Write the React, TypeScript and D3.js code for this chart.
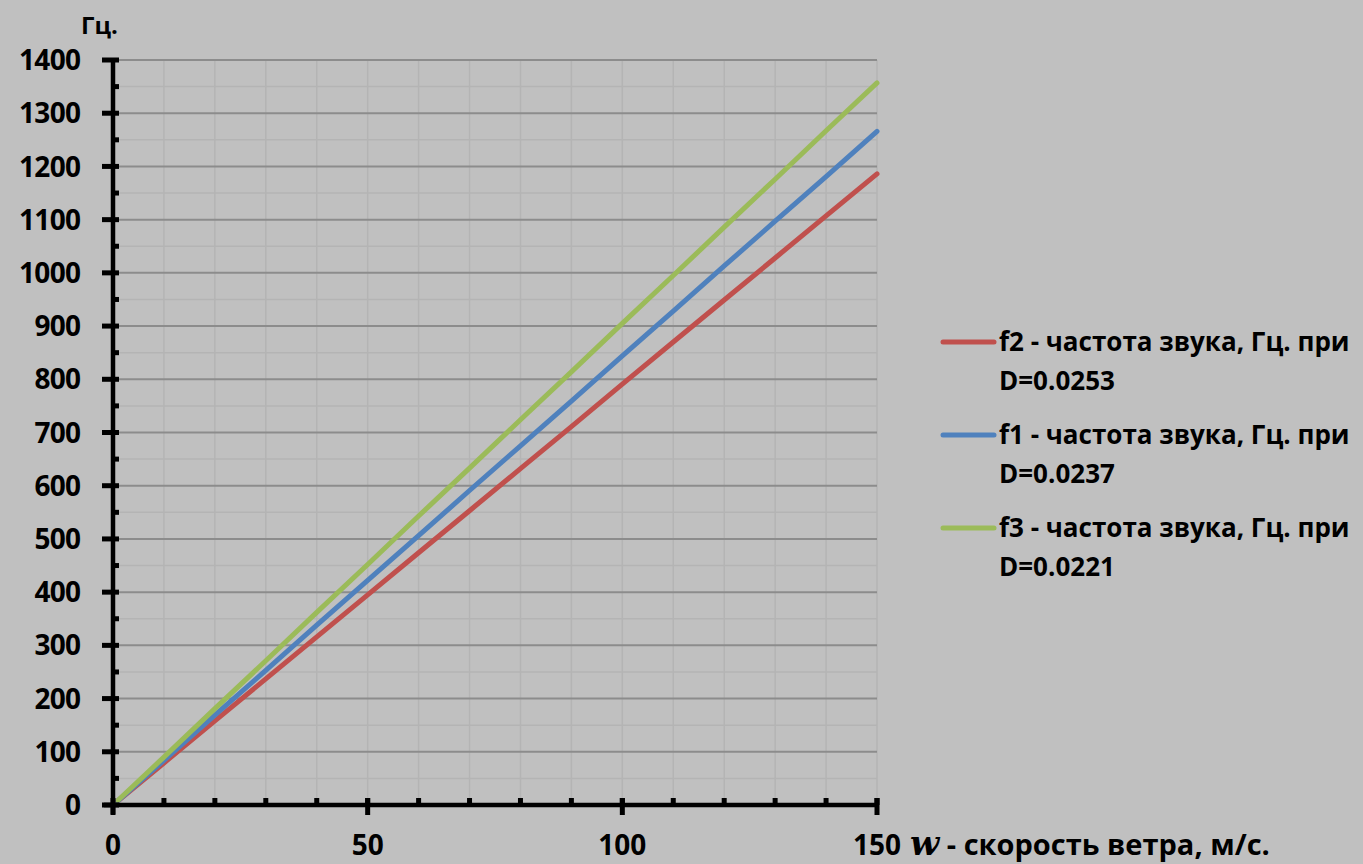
import React, { useRef, useEffect } from 'react';
import * as d3 from 'd3';

// wind speed, m/s
const speeds = [1, 10, 20, 30, 40, 50, 60, 70, 80, 90, 100, 110, 120, 130, 140, 150];

// f2, D=0.0253
const f2Values = [8, 79, 158, 237, 316, 395, 474, 553, 632, 711, 791, 870, 949, 1028, 1107, 1186];
// f1, D=0.0237
const f1Values = [8, 84, 169, 253, 338, 422, 506, 591, 675, 759, 844, 928, 1013, 1097, 1181, 1266];
// f3, D=0.0221
const f3Values = [9, 90, 181, 271, 362, 452, 543, 633, 724, 814, 905, 995, 1086, 1176, 1267, 1357];

const seriesNames = ['f2', 'f1', 'f3'];
const seriesDs = ['0.0253', '0.0237', '0.0221'];
const seriesColors = ['#c0504d', '#4f81bd', '#9bbb59'];

const yTicks = [0, 100, 200, 300, 400, 500, 600, 700, 800, 900, 1000, 1100, 1200, 1300, 1400];
const xTicks = [0, 50, 100, 150];

const W = 1363;
const H = 864;
const FONT = '"Open Sans", sans-serif';

export default function App() {
  const svgRef = useRef<SVGSVGElement>(null);

  useEffect(() => {
    const svg = d3.select(svgRef.current);
    svg.selectAll('*').remove();

    svg.append('rect').attr('width', W).attr('height', H).attr('fill', '#c0c0c0');

    const x = d3.scaleLinear().domain([0, 150]).range([113, 877]);
    const y = d3.scaleLinear().domain([0, 1400]).range([805, 60]);

    // vertical grid every 10
    const g = svg.append('g');
    g.selectAll('.vgrid')
      .data(d3.range(10, 151, 10))
      .enter().append('line')
      .attr('x1', d => x(d)).attr('x2', d => x(d))
      .attr('y1', y(1400)).attr('y2', y(0))
      .attr('stroke', '#b4b4b4').attr('stroke-width', 1.5);

    // minor horizontal grid every 50
    g.selectAll('.hminor')
      .data(d3.range(50, 1400, 100))
      .enter().append('line')
      .attr('x1', x(0)).attr('x2', x(150))
      .attr('y1', d => y(d)).attr('y2', d => y(d))
      .attr('stroke', '#b4b4b4').attr('stroke-width', 1.5);

    // major horizontal grid every 100
    g.selectAll('.hmajor')
      .data(yTicks.slice(1))
      .enter().append('line')
      .attr('x1', x(0)).attr('x2', x(150))
      .attr('y1', d => y(d)).attr('y2', d => y(d))
      .attr('stroke', '#8c8c8c').attr('stroke-width', 2);

    // series
    const allValues = [f2Values, f1Values, f3Values];
    const line = d3.line<number>()
      .x((_, i) => x(speeds[i]))
      .y(d => y(d));

    allValues.forEach((vals, i) => {
      svg.append('path')
        .datum(vals)
        .attr('fill', 'none')
        .attr('stroke', seriesColors[i])
        .attr('stroke-width', 5)
        .attr('stroke-linecap', 'round')
        .attr('stroke-linejoin', 'round')
        .attr('d', line);
    });

    // axes
    const ax = svg.append('g');
    ax.append('line')
      .attr('x1', x(0)).attr('x2', x(0))
      .attr('y1', y(1400) - 2).attr('y2', y(0) + 9)
      .attr('stroke', '#000').attr('stroke-width', 4.5);
    ax.append('line')
      .attr('x1', x(0) - 9).attr('x2', x(150) + 2)
      .attr('y1', y(0)).attr('y2', y(0))
      .attr('stroke', '#000').attr('stroke-width', 4.5);

    // y ticks
    ax.selectAll('.ymaj')
      .data(yTicks)
      .enter().append('line')
      .attr('x1', x(0) - 11).attr('x2', x(0) + 6)
      .attr('y1', d => y(d)).attr('y2', d => y(d))
      .attr('stroke', '#000').attr('stroke-width', 5);
    ax.selectAll('.ymin')
      .data(d3.range(50, 1400, 100))
      .enter().append('line')
      .attr('x1', x(0)).attr('x2', x(0) + 6)
      .attr('y1', d => y(d)).attr('y2', d => y(d))
      .attr('stroke', '#000').attr('stroke-width', 5);

    // x ticks
    ax.selectAll('.xmin')
      .data(d3.range(10, 151, 10))
      .enter().append('line')
      .attr('x1', d => x(d)).attr('x2', d => x(d))
      .attr('y1', y(0)).attr('y2', y(0) - 7)
      .attr('stroke', '#000').attr('stroke-width', 5);
    ax.selectAll('.xmaj')
      .data(xTicks)
      .enter().append('line')
      .attr('x1', d => x(d)).attr('x2', d => x(d))
      .attr('y1', y(0) - 7).attr('y2', y(0) + 10)
      .attr('stroke', '#000').attr('stroke-width', 5);

    // tick labels
    ax.selectAll('.ylab')
      .data(yTicks)
      .enter().append('text')
      .attr('x', 81).attr('y', d => y(d))
      .attr('dy', '0.36em')
      .attr('text-anchor', 'end')
      .attr('font-family', FONT).attr('font-weight', 700).attr('font-size', 28)
      .attr('textLength', d => String(d).length * 15.5)
      .attr('fill', '#000')
      .text(d => String(d));

    ax.selectAll('.xlab')
      .data(xTicks)
      .enter().append('text')
      .attr('x', d => x(d)).attr('y', 855)
      .attr('text-anchor', 'middle')
      .attr('font-family', FONT).attr('font-weight', 700).attr('font-size', 28)
      .attr('fill', '#000')
      .text(d => String(d));

    // axis titles
    svg.append('text')
      .attr('x', 81).attr('y', 34)
      .attr('font-family', FONT).attr('font-weight', 700).attr('font-size', 24)
      .attr('fill', '#000')
      .text('Гц.');

    const xt = svg.append('text')
      .attr('x', 910).attr('y', 855)
      .attr('font-family', FONT).attr('font-weight', 700).attr('font-size', 29)
      .attr('fill', '#000');
    xt.append('tspan')
      .attr('font-family', '"DejaVu Serif", serif').attr('font-style', 'italic')
      .attr('font-size', 34)
      .text('w');
    xt.append('tspan').text(' - скорость ветра, м/с.');

    // legend
    const legend = svg.append('g');
    seriesNames.forEach((name, i) => {
      const ly = 342 + i * 93;
      legend.append('line')
        .attr('x1', 943).attr('x2', 994)
        .attr('y1', ly).attr('y2', ly)
        .attr('stroke', seriesColors[i]).attr('stroke-width', 5)
        .attr('stroke-linecap', 'round');
      const t = legend.append('text')
        .attr('font-family', FONT).attr('font-weight', 700).attr('font-size', 26)
        .attr('fill', '#000');
      t.append('tspan').attr('x', 999).attr('y', ly).attr('dy', '0.36em')
        .text(`${name} - частота звука, Гц. при`);
      t.append('tspan').attr('x', 999).attr('y', ly + 39).attr('dy', '0.36em')
        .text(`D=${seriesDs[i]}`);
    });
  }, []);

  return (
    <div style={{ position: 'fixed', left: 0, top: 0 }}>
      <svg ref={svgRef} width={W} height={H} style={{ display: 'block' }} />
    </div>
  );
}
